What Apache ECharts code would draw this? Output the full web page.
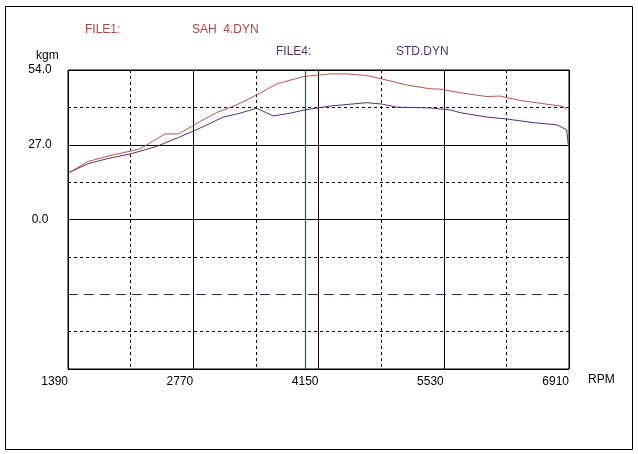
<!DOCTYPE html>
<html>
<head>
<meta charset="utf-8">
<script src="https://cdn.jsdelivr.net/npm/echarts@6/dist/echarts.min.js"></script>
<style>
html,body{margin:0;padding:0;background:#fff;}
#c{width:638px;height:454px;}
</style>
</head>
<body>
<div id="c"></div>
<script>
// RPM range and tick labels
const xTicks = [1390, 2770, 4150, 5530, 6910];
const yTicks = [-54, -27, 0, 27, 54];

// FILE1: SAH 4.DYN (red)
const sahRpm = [1404,1614,1853,2092,2183,2275,2459,2605,2753,2844,3028,3249,3469,3690,3983,4277,4461,4681,4846,5122,5379,5489,5709,6003,6150,6370,6590,6847,6877];
const sahKgm = [17.0,21.0,23.1,24.8,25.5,27.3,30.9,30.9,33.6,35.4,38.6,41.4,45.0,49.0,51.6,52.6,52.6,52.0,50.8,48.6,47.2,47.1,45.8,44.4,44.6,43.0,42.0,40.8,39.6];

// FILE4: STD.DYN (purple)
const stdRpm = [1404,1614,1853,2092,2367,2605,2844,3101,3285,3469,3652,3836,4001,4130,4277,4387,4681,4846,5012,5379,5599,5709,6003,6223,6517,6775,6885,6903];
const stdKgm = [17.0,20.2,22.2,23.8,26.4,29.6,33.0,37.0,38.4,40.2,37.4,38.4,39.6,40.2,41.0,41.3,42.2,41.7,40.6,40.3,39.6,38.6,37.0,36.3,35.0,34.2,32.4,26.6];

// marker lines
const cursorRpm = 4000;
const refLineKgm = -27;

const chart = echarts.init(document.getElementById('c'), null, {renderer: 'canvas'});
const FONT = 'Liberation Sans';
const RED = '#b8564c';
const PURPLE = '#5a2e74';

chart.setOption({
  animation: false,
  backgroundColor: '#fff',
  grid: {left: 68, right: 69, top: 70, bottom: 85, show: true, borderColor: '#000', borderWidth: 1, backgroundColor: 'transparent'},
  xAxis: {
    type: 'value', min: xTicks[0], max: xTicks[xTicks.length - 1], interval: xTicks[1] - xTicks[0],
    axisLine: {show: false}, axisTick: {show: false},
    axisLabel: {color: '#000', fontFamily: FONT, fontSize: 12, align: 'right', margin: 7, showMinLabel: true, showMaxLabel: true,
      formatter: v => String(v)},
    splitLine: {show: true, lineStyle: {color: '#000', width: 1}},
    minorTick: {show: false, splitNumber: 2},
    minorSplitLine: {show: true, lineStyle: {color: '#000', width: 1, type: [3, 3]}}
  },
  yAxis: {
    type: 'value', min: yTicks[0], max: yTicks[yTicks.length - 1], interval: yTicks[1] - yTicks[0],
    axisLine: {show: false}, axisTick: {show: false},
    axisLabel: {color: '#000', fontFamily: FONT, fontSize: 12, align: 'center', margin: 28,
      formatter: v => v >= 0 ? v.toFixed(1) : ''},
    splitLine: {show: true, lineStyle: {color: ['#000', 'rgba(0,0,0,0)', '#000', '#000', '#000'], width: 1}},
    minorTick: {show: false, splitNumber: 2},
    minorSplitLine: {show: true, lineStyle: {color: '#000', width: 1, type: [3, 3]}}
  },
  graphic: [
    {type: 'rect', shape: {x: 5.5, y: 6.5, width: 627, height: 443}, style: {fill: 'none', stroke: '#000', lineWidth: 1}, silent: true},
    {type: 'text', left: 85, top: 24, style: {text: 'FILE1:', fill: '#a8463e', font: '12px "Liberation Sans"'}},
    {type: 'text', left: 192, top: 24, style: {text: 'SAH  4.DYN', fill: '#a8463e', font: '12px "Liberation Sans"'}},
    {type: 'text', left: 276, top: 46, style: {text: 'FILE4:', fill: PURPLE, font: '12px "Liberation Sans"'}},
    {type: 'text', left: 396, top: 46, style: {text: 'STD.DYN', fill: PURPLE, font: '12px "Liberation Sans"'}},
    {type: 'text', left: 36, top: 50, style: {text: 'kgm', fill: '#000', font: '12px "Liberation Sans"'}},
    {type: 'text', left: 588, top: 374, style: {text: 'RPM', fill: '#000', font: '12px "Liberation Sans"'}}
  ],
  series: [
    {
      type: 'line', name: 'STD.DYN', data: stdRpm.map((r, i) => [r, stdKgm[i]]),
      showSymbol: false, lineStyle: {color: PURPLE, width: 1}, z: 3,
      markLine: {silent: true, symbol: 'none', label: {show: false},
        lineStyle: {color: '#2c2c8c', width: 1, type: [10, 6], opacity: 1},
        data: [{yAxis: refLineKgm}]}
    },
    {
      type: 'line', name: 'SAH 4.DYN', data: sahRpm.map((r, i) => [r, sahKgm[i]]),
      showSymbol: false, lineStyle: {color: RED, width: 1}, z: 4,
      markLine: {silent: true, symbol: 'none', label: {show: false},
        lineStyle: {color: '#007a00', width: 1.2, type: 'solid', opacity: 1},
        data: [{xAxis: cursorRpm}]}
    }
  ]
});
</script>
</body>
</html>
